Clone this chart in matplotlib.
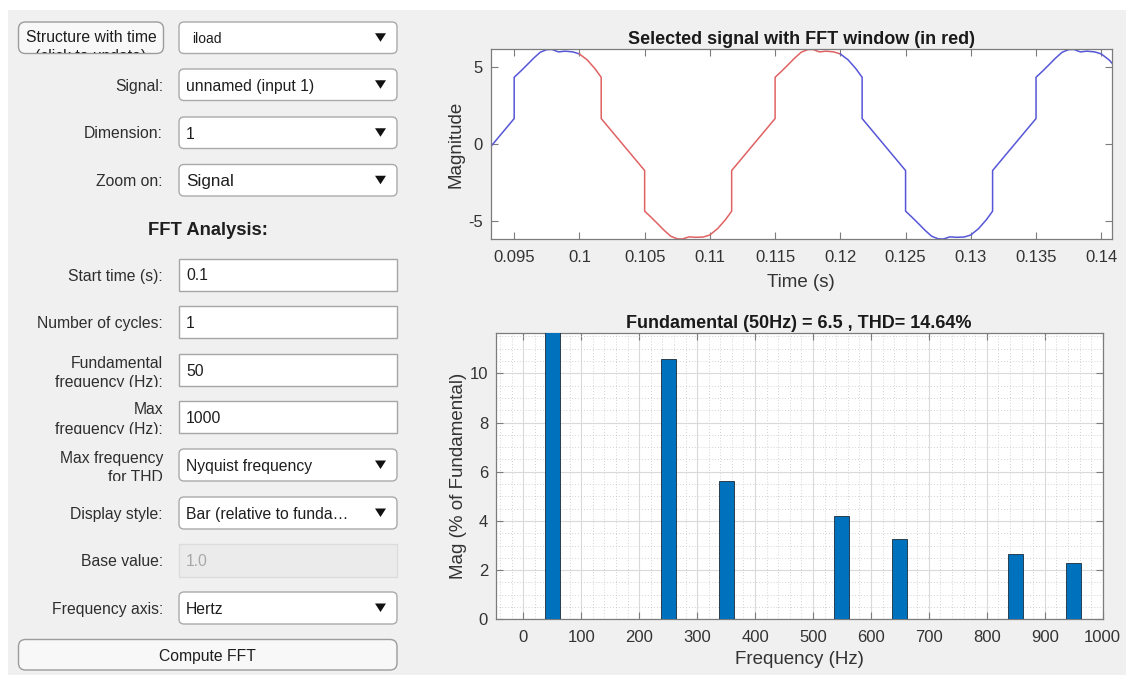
import matplotlib
matplotlib.use("Agg")
import numpy as np
import matplotlib.pyplot as plt
from matplotlib.patches import FancyBboxPatch, Rectangle, Polygon
from matplotlib.transforms import Bbox
from matplotlib.ticker import MultipleLocator, FuncFormatter

plt.rcParams["font.family"] = ["Liberation Sans", "DejaVu Sans"]
plt.rcParams["axes.unicode_minus"] = False

W, H = 1126, 675

# ---- data ------------------------------------------------------------------
# load current (A) vs time (s)
time_s = [
    0.0932, 0.0950, 0.0950, 0.0955, 0.0960, 0.0965, 0.0970, 0.0975, 0.0979,
    0.0984, 0.0989, 0.0995, 0.1000, 0.1006, 0.1012, 0.10167, 0.10167,
    0.1050, 0.1050, 0.1055, 0.1060, 0.1065, 0.1070, 0.1075, 0.1079, 0.1084,
    0.1089, 0.1095, 0.1100, 0.1106, 0.1112, 0.11167, 0.11167,
    0.1150, 0.1150, 0.1155, 0.1160, 0.1165, 0.1170, 0.1175, 0.1179, 0.1184,
    0.1189, 0.1195, 0.1200, 0.1206, 0.1212, 0.12167, 0.12167,
    0.1250, 0.1250, 0.1255, 0.1260, 0.1265, 0.1270, 0.1275, 0.1279, 0.1284,
    0.1289, 0.1295, 0.1300, 0.1306, 0.1312, 0.13167, 0.13167,
    0.1350, 0.1350, 0.1355, 0.1360, 0.1365, 0.1370, 0.1375, 0.1379, 0.1384,
    0.1389, 0.1395, 0.1400, 0.1406, 0.1410,
]
current_a = [
    -0.16, 1.67, 4.35, 4.75, 5.17, 5.60, 5.98, 6.15, 6.16,
    6.00, 6.05, 6.00, 5.87, 5.48, 4.90, 4.35, 1.67,
    -1.71, -4.35, -4.75, -5.17, -5.60, -5.98, -6.15, -6.16, -6.02,
    -6.05, -6.03, -5.90, -5.48, -4.90, -4.35, -1.71,
    1.67, 4.35, 4.75, 5.17, 5.60, 5.98, 6.15, 6.16, 6.00,
    6.05, 6.00, 5.87, 5.48, 4.90, 4.35, 1.67,
    -1.71, -4.35, -4.75, -5.17, -5.60, -5.98, -6.15, -6.16, -6.02,
    -6.05, -6.03, -5.90, -5.48, -4.90, -4.35, -1.71,
    1.67, 4.35, 4.75, 5.17, 5.60, 5.98, 6.15, 6.16, 6.00,
    6.05, 6.00, 5.87, 5.48, 5.10,
]
fft_window = (0.1, 0.12)

# harmonic spectrum, % of fundamental
harm_freq = [0, 50, 100, 150, 200, 250, 300, 350, 400, 450, 500,
             550, 600, 650, 700, 750, 800, 850, 900, 950, 1000]
harm_mag = [0.02, 100.0, 0.02, 0.02, 0.02, 10.57, 0.02, 5.63, 0.02, 0.02, 0.02,
            4.19, 0.02, 3.26, 0.02, 0.02, 0.02, 2.64, 0.02, 2.28, 0.02]
fft_title = "Fundamental (50Hz) = 6.5 , THD= 14.64%"

# ---- figure + GUI panel -----------------------------------------------------
fig = plt.figure(figsize=(W / 100, H / 100), dpi=100, facecolor="white")
ui = fig.add_axes([0, 0, 1, 1], zorder=0)
ui.set_xlim(0, W)
ui.set_ylim(H, 0)
ui.axis("off")
ui.add_patch(Rectangle((8, 10), W - 8, H - 10, fc="#f0f0f0", ec="none"))

LBL = "#2e2e2e"
TXT = "#1e1e1e"
BX0, BX1 = 179, 397


def clip_below(txt, ybot):
    # clip text at a pixel row (screen y measured from top)
    txt.set_clip_box(Bbox([[0, H - ybot], [W, H]]))
    txt.set_clip_on(True)


def label(yc, s):
    ui.text(163, yc, s, ha="right", va="center_baseline", fontsize=11.3, color=LBL)


def label2(base1, base2, s1, s2, clip):
    ui.text(163, base1, s1, ha="right", va="baseline", fontsize=11.3, color=LBL)
    t = ui.text(163, base2, s2, ha="right", va="baseline", fontsize=11.3, color=LBL)
    clip_below(t, clip)


def dropdown(y0, y1, s, size=11.3, x=186):
    ui.add_patch(FancyBboxPatch((BX0, y0), BX1 - BX0, y1 - y0,
                                boxstyle="round,pad=0,rounding_size=5",
                                fc="white", ec="#aaaaaa", lw=1.0))
    yc = (y0 + y1) / 2
    ui.text(x, yc, s, ha="left", va="center_baseline", fontsize=size, color=TXT)
    ui.add_patch(Polygon([[375, yc - 4.5], [386, yc - 4.5], [380.5, yc + 4]],
                         closed=True, fc="#111111", ec="none"))


def editbox(y0, y1, s, disabled=False):
    ui.add_patch(Rectangle((BX0, y0), BX1 - BX0, y1 - y0,
                           fc="#ebebeb" if disabled else "white",
                           ec="#dcdcdc" if disabled else "#a6a6a6", lw=1.0))
    ui.text(186, (y0 + y1) / 2, s, ha="left", va="center_baseline", fontsize=11.3,
            color="#a8a8a8" if disabled else TXT)


# top row: button + dropdown
ui.add_patch(FancyBboxPatch((18.5, 22), 145, 31.5,
                            boxstyle="round,pad=0,rounding_size=7",
                            fc="#f8f8f8", ec="#9c9c9c", lw=1.0))
ui.text(91, 36, "Structure with time", ha="center", va="center_baseline",
        fontsize=11.3, color=TXT)
t2 = ui.text(91, 49.5, "(click to update)", ha="center", va="top",
             fontsize=11.3, color=TXT)
clip_below(t2, 52.5)
dropdown(22, 53.5, "iload", size=10, x=192)

label(85, "Signal:")
dropdown(69, 100.5, "unnamed (input 1)")
label(132.5, "Dimension:")
dropdown(117, 148.5, "1")
label(180, "Zoom on:")
dropdown(164.5, 196, "Signal", size=12.3)

ui.text(207.5, 228.5, "FFT Analysis:", ha="center", va="center_baseline",
        fontsize=13.2, fontweight="bold", color=TXT)

label(274.5, "Start time (s):")
editbox(258.5, 290.5, "0.1")
label(322, "Number of cycles:")
editbox(306, 338, "1")
label2(368, 387, "Fundamental", "frequency (Hz):", 387)
editbox(354, 386, "50")
label2(414.5, 434, "Max", "frequency (Hz):", 434)
editbox(401, 433, "1000")
label2(462.5, 482, "Max frequency", "for THD", 480.5)
dropdown(449, 481, "Nyquist frequency")
label(513, "Display style:")
dropdown(497, 529, "Bar (relative to funda\u2026")
label(560.5, "Base value:")
editbox(544, 577, "1.0", disabled=True)
label(608, "Frequency axis:")
dropdown(592, 624, "Hertz")

ui.add_patch(FancyBboxPatch((18.5, 639.5), 378.5, 30.5,
                            boxstyle="round,pad=0,rounding_size=7",
                            fc="#f8f8f8", ec="#9c9c9c", lw=1.0))
ui.text(207.5, 654.5, "Compute FFT", ha="center", va="center_baseline",
        fontsize=11.3, color=TXT)

# ---- plot styling -----------------------------------------------------------
FRAME = "#7c7c7c"
TICKLBL = "#333333"


def style(ax, xpad):
    ax.set_facecolor("white")
    for sp in ax.spines.values():
        sp.set_color(FRAME)
        sp.set_linewidth(0.9)
    ax.tick_params(which="major", direction="in", length=5, width=0.8,
                   color=FRAME, top=True, right=True, labelsize=12,
                   labelcolor=TICKLBL)
    ax.tick_params(axis="x", pad=xpad)
    ax.tick_params(axis="y", pad=5.5)
    ax.tick_params(which="minor", length=0)


# ---- selected signal --------------------------------------------------------
ax1 = fig.add_axes([490.7 / W, 1 - 239 / H, 621 / W, 189.7 / H], zorder=2)
style(ax1, 8)
t = np.array(time_s)
v = np.array(current_a)
before = t <= fft_window[0]
inside = (t >= fft_window[0]) & (t <= fft_window[1])
after = t >= fft_window[1]
ax1.plot(t[before], v[before], color="#5656d8", lw=1.1)
ax1.plot(t[inside], v[inside], color="#e06262", lw=1.1)
ax1.plot(t[after], v[after], color="#5656d8", lw=1.1)
ax1.set_xlim(0.0932, 0.1408)
ax1.set_ylim(-6.16, 6.17)
ax1.xaxis.set_major_locator(MultipleLocator(0.005))
ax1.xaxis.set_major_formatter(FuncFormatter(lambda x, p: "%g" % round(x, 4)))
ax1.yaxis.set_major_locator(MultipleLocator(5))
ax1.set_title("Selected signal with FFT window (in red)", fontsize=13,
              fontweight="bold", color="#1a1a1a", pad=4)
ax1.set_xlabel("Time (s)", fontsize=13.5, color="#333333")
ax1.set_ylabel("Magnitude", fontsize=13.5, color="#333333")
ax1.xaxis.set_label_coords(0.5, -0.185)
ax1.yaxis.set_label_coords(-0.042, 0.5)

# ---- spectrum ---------------------------------------------------------------
ax2 = fig.add_axes([495.7 / W, 1 - 619.3 / H, 607 / W, 286 / H], zorder=2)
style(ax2, 7.5)
ax2.set_axisbelow(True)
ax2.xaxis.set_major_locator(MultipleLocator(100))
ax2.xaxis.set_minor_locator(MultipleLocator(20))
ax2.yaxis.set_major_locator(MultipleLocator(2))
ax2.yaxis.set_minor_locator(MultipleLocator(0.5))
ax2.grid(which="major", color="#dadada", lw=0.8, ls="-")
ax2.grid(which="minor", color="#c4c4c4", lw=0.6, ls=(0, (1, 2.5)))
ax2.bar(harm_freq, harm_mag, width=26, color="#0072BD", edgecolor="#1c2a3a",
        linewidth=0.6, zorder=3)
ax2.set_xlim(-47.6, 1000)
ax2.set_ylim(0, max(m for f, m in zip(harm_freq, harm_mag) if f != 50) * 1.1)
ax2.set_title(fft_title, fontsize=13, fontweight="bold", color="#1a1a1a", pad=4)
ax2.set_xlabel("Frequency (Hz)", fontsize=13.5, color="#333333")
ax2.set_ylabel("Mag (% of Fundamental)", fontsize=13.5, color="#333333")
ax2.xaxis.set_label_coords(0.5, -0.112)
ax2.yaxis.set_label_coords(-0.048, 0.5)

fig.savefig("out.png", dpi=100, facecolor=fig.get_facecolor())
